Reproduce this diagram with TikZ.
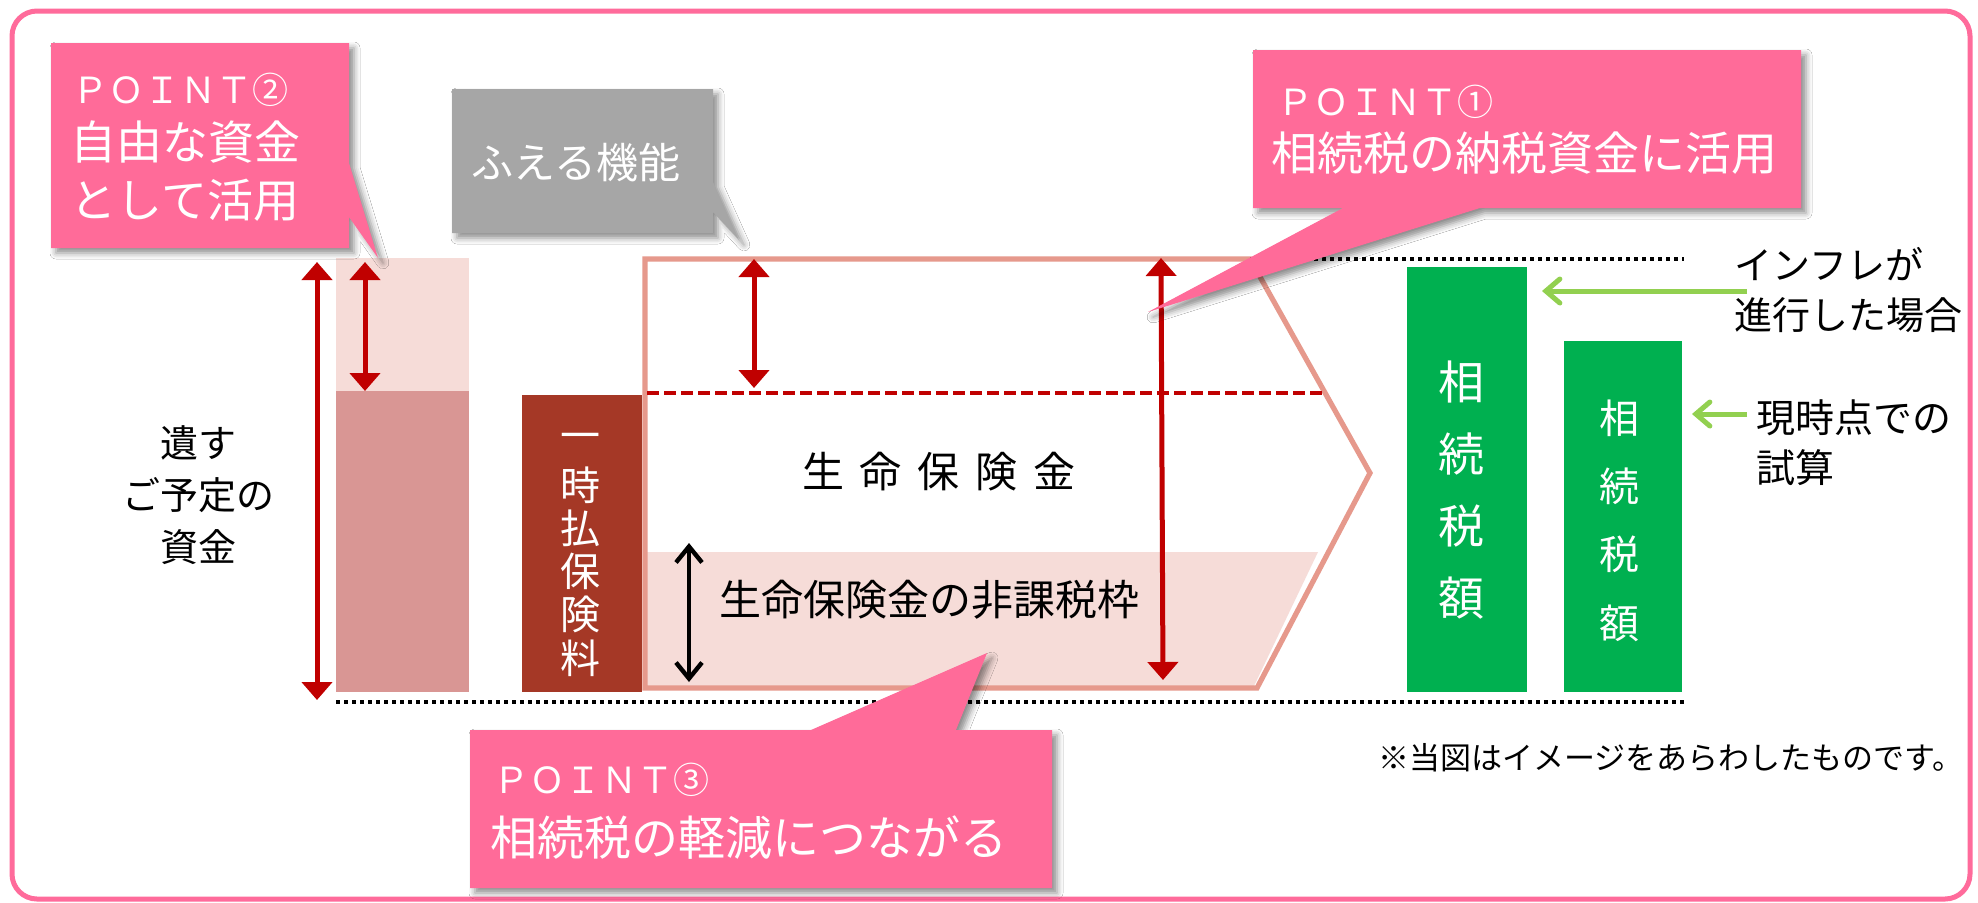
\documentclass[tikz,border=0pt]{standalone}
\usepackage{fontspec}
\setmainfont{Noto Sans CJK JP}
\usetikzlibrary{arrows.meta,shadows.blur}
\definecolor{bpink}{HTML}{FF6B9B}
\definecolor{cpink}{HTML}{FF6B99}
\definecolor{cgray}{HTML}{A6A6A6}
\definecolor{lpink}{HTML}{F6DCD8}
\definecolor{dpink}{HTML}{D99694}
\definecolor{dred}{HTML}{A53826}
\definecolor{salmon}{HTML}{E6998C}
\definecolor{ared}{HTML}{C00000}
\definecolor{gbar}{HTML}{00B050}
\definecolor{garrow}{HTML}{92D050}
\newcommand{\fsz}[2]{\fontsize{#1}{#2}\selectfont}
\begin{document}
\begin{tikzpicture}[x=0.5pt,y=-0.5pt,
  callout/.style={fill=#1, blur shadow={shadow xshift=2.5pt, shadow yshift=-2.5pt, shadow blur radius=3pt, shadow opacity=45}},
  wtxt/.style={text=white, inner sep=0pt, anchor=west},
  btxt/.style={text=black, inner sep=0pt},
  redarr/.style={draw=ared, line width=2.5pt, {Triangle[width=15pt,length=9pt]}-{Triangle[width=15pt,length=9pt]}},
  blkarr/.style={draw=black, line width=2.2pt, {Straight Barb[length=8pt,width=13pt]}-{Straight Barb[length=8pt,width=13pt]}},
  grnarr/.style={draw=garrow, line width=2.5pt, -{Straight Barb[length=7pt,width=12pt,line cap=round]}},
  dotline/.style={draw=black, line width=1.8pt, dash pattern=on 1.8pt off 2.2pt},
  dashline/.style={draw=ared, line width=2pt, dash pattern=on 6pt off 2.5pt},
]
\useasboundingbox (0,0) rectangle (1978,902);
\fill[white] (0,0) rectangle (1978,902);
% outer border
\draw[bpink, line width=2.5pt, rounded corners=12.5pt] (12,11) rectangle (1970,899);

% left bar
\fill[lpink] (336,258) rectangle (469,391);
\fill[dpink] (336,391) rectangle (469,692);
\node[btxt, align=center, font=\fsz{19pt}{26pt}] (nokosu) at (198,495) {遺す\\ご予定の\\資金};

% premium box
\fill[dred] (522,395) rectangle (642,692);
\foreach \c [count=\i from 0] in {一,時,払,保,険,料}
  \node[text=white, inner sep=0pt, font=\fsz{20pt}{20pt}] (ichiji\i) at (580,{442+43.2*\i}) {\c};

% frame
\fill[lpink] (645,552) -- (1318,552) -- (1254,686) -- (645,686) -- cycle;
\draw[salmon, line width=2.6pt, line join=miter] (645,259) -- (1250,259) -- (1370,473) -- (1257,688) -- (645,688) -- cycle;
\coordinate (dashL) at (647,393);
\coordinate (dashR) at (1325,393);
\draw[dashline] (dashL) -- (dashR);
\node[btxt, font=\fsz{21pt}{21pt}] (seimei) at (939,472) {生\hspace{8pt}命\hspace{8pt}保\hspace{8pt}険\hspace{8pt}金};
\node[btxt, anchor=west, font=\fsz{21pt}{21pt}] (hikazei) at (719,600) {生命保険金の非課税枠};

% dotted lines
\coordinate (dtA) at (1250,259);
\coordinate (dtB) at (1684,259);
\coordinate (dbA) at (336,702);
\coordinate (dbB) at (1684,702);
\draw[dotline] (dtA) -- (dtB);
\draw[dotline] (dbA) -- (dbB);

% green bars
\fill[gbar] (1407,267) rectangle (1527,692);
\fill[gbar] (1564,341) rectangle (1682,692);
\foreach \c [count=\i from 0] in {相,続,税,額}
  \node[text=white, inner sep=0pt, font=\fsz{23pt}{23pt}] (sa\i) at (1461,{382+72*\i}) {\c};
\foreach \c [count=\i from 0] in {相,続,税,額}
  \node[text=white, inner sep=0pt, font=\fsz{20pt}{20pt}] (sb\i) at (1619,{418+68.3*\i}) {\c};

% right labels
\node[btxt, anchor=west, align=left, font=\fsz{19pt}{25pt}] (inf) at (1734,290) {インフレが\\進行した場合};
\node[btxt, anchor=west, align=left, font=\fsz{19.5pt}{25pt}] (now) at (1756,443) {現時点での\\試算};
\coordinate (g1s) at (1747,291);
\coordinate (g1e) at (1542,291);
\coordinate (g2s) at (1747,414);
\coordinate (g2e) at (1692,414);
\draw[grnarr] (g1s) -- (g1e);
\draw[grnarr] (g2s) -- (g2e);
\node[btxt, anchor=west, font=\fsz{15.5pt}{15.5pt}] (note) at (1378,758) {※当図はイメージをあらわしたものです。};

% arrows
\coordinate (a1t) at (317,262); \coordinate (a1b) at (317,700);
\coordinate (a2t) at (365,262); \coordinate (a2b) at (365,391);
\coordinate (a3t) at (754,259); \coordinate (a3b) at (754,388);
\coordinate (a4t) at (1161,258); \coordinate (a4b) at (1163,680);
\coordinate (a5t) at (689,543); \coordinate (a5b) at (689,682);
\draw[redarr] (a1t) -- (a1b);
\draw[redarr] (a2t) -- (a2b);
\draw[redarr] (a3t) -- (a3b);
\draw[redarr] (a4t) -- (a4b);
\draw[blkarr] (a5t) -- (a5b);

% callouts
\fill[callout=cpink] (51,43) -- (349,43) -- (349,163) -- (378,258) -- (349,217) -- (349,248) -- (51,248) -- cycle;
\node[wtxt, font=\fsz{18pt}{18pt}] (p2a) at (72,90) {ＰＯＩＮＴ②};
\node[wtxt, align=left, font=\fsz{23pt}{29pt}] (p2b) at (70,171) {自由な資金\\として活用};

\fill[callout=cgray] (452,89) -- (713,89) -- (713,182) -- (739,240) -- (713,212) -- (713,233) -- (452,233) -- cycle;
\node[text=white, inner sep=0pt, font=\fsz{21pt}{21pt}] (fueru) at (576,163) {ふえる機能};

\fill[callout=cpink] (1253,50) -- (1801,50) -- (1801,208) -- (1480,208) -- (1148,312) -- (1343,208) -- (1253,208) -- cycle;
\node[wtxt, font=\fsz{18pt}{18pt}] (p1a) at (1277,102) {ＰＯＩＮＴ①};
\node[wtxt, font=\fsz{23pt}{23pt}] (p1b) at (1271,153) {相続税の納税資金に活用};

\fill[callout=cpink] (470,730) -- (811,730) -- (987,653) -- (956,730) -- (1052,730) -- (1052,888) -- (470,888) -- cycle;
\node[wtxt, font=\fsz{18pt}{18pt}] (p3a) at (493,780) {ＰＯＩＮＴ③};
\node[wtxt, font=\fsz{23.5pt}{23.5pt}] (p3b) at (490,838) {相続税の軽減につながる};
\end{tikzpicture}
\end{document}
